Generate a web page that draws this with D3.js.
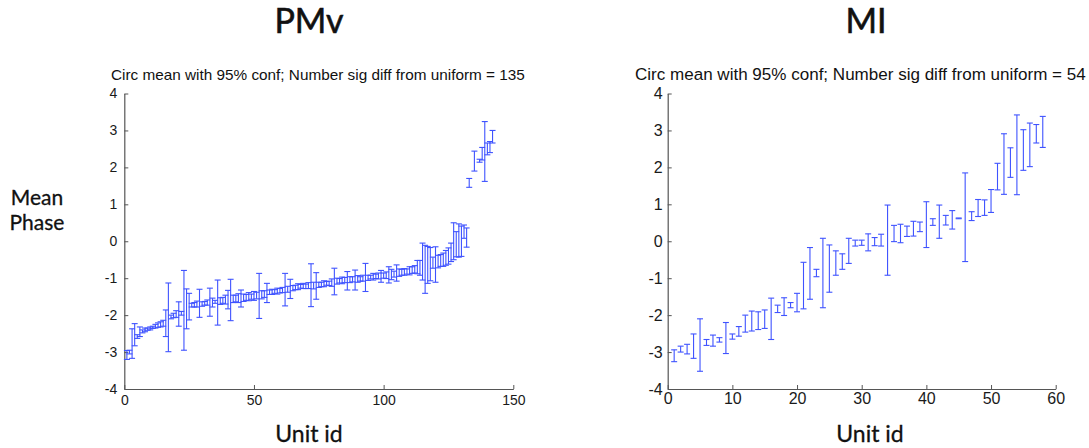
<!DOCTYPE html>
<html>
<head>
<meta charset="utf-8">
<script src="https://cdn.jsdelivr.net/npm/d3@7/dist/d3.min.js"></script>
<style>
  body { margin: 0; background: #fff; }
  svg { display: block; }
</style>
</head>
<body>
<svg id="chart" width="1089" height="448"></svg>
<script>
// ---------------- DATA ----------------
const panelTitles = ["PMv", "MI"];
const subtitles = [
  "Circ mean with 95% conf; Number sig diff from uniform = 135",
  "Circ mean with 95% conf; Number sig diff from uniform = 54"
];
const yLabelLines = ["Mean", "Phase"];
const xLabel = "Unit id";
const yTicks = [-4, -3, -2, -1, 0, 1, 2, 3, 4];
const pmvXTicks = [0, 50, 100, 150];
const miXTicks = [0, 10, 20, 30, 40, 50, 60];

// PMv: circular mean per unit id (1..142), null = not shown
const pmvMean = [
  -3.08, -3.00, -2.77, -2.53, -2.58, -2.45, -2.44, -2.40, -2.38, -2.36,
  -2.33, -2.30, -2.27, -2.25, -2.22, -2.22, -2.06, -2.05, -2.01, -1.97,
  -1.97, -1.95, -1.87, -1.83, -1.77, -1.73, -1.72, -1.70, -1.68, -1.70,
  -1.68, -1.66, -1.65, -1.66, -1.64, -1.66, -1.62, -1.60, -1.58, -1.58,
  -1.59, -1.56, -1.55, -1.54, -1.55, -1.53, -1.52, -1.50, -1.50, -1.48,
  -1.47, -1.48, -1.45, -1.43, -1.40, -1.38, -1.37, -1.36, -1.35, -1.34,
  -1.32, -1.31, -1.30, -1.29, -1.27, -1.25, -1.23, -1.22, -1.21, -1.22,
  -1.20, -1.19, -1.20, -1.21, -1.18, -1.17, -1.15, -1.14, -1.14, -1.12,
  -1.09, -1.08, -1.07, -1.06, -1.05, -1.07, -1.04, -1.03, -1.05, -1.02,
  -1.02, -1.00, -0.98, -0.99, -0.97, -0.96, -0.95, -0.94, -0.95, -0.93,
  -0.92, -0.91, -0.90, -0.89, -0.86, -0.85, -0.84, -0.83, -0.82, -0.80,
  -0.78, -0.76, -0.70, -0.72, -0.55, -0.76, -0.64, -0.62, -0.58, -0.63,
  -0.55, -0.52, -0.50, -0.45, -0.40, -0.30, 0.00, -0.08, 0.02, 0.00,
  0.26, 0.10, 1.58, null, 2.17, null, 2.18, 2.37, 2.43, 2.50,
  2.55, 2.83
];
// PMv: half width of 95% confidence interval
const pmvHalf = [
  0.12, 0.05, 0.40, 0.30, 0.05, 0.13, 0.04, 0.05, 0.03, 0.04,
  0.03, 0.05, 0.06, 0.07, 0.08, 0.36, 0.93, 0.05, 0.06, 0.09,
  0.33, 0.05, 1.08, 0.54, 0.36, 0.05, 0.06, 0.08, 0.38, 0.06,
  0.05, 0.07, 0.38, 0.12, 0.04, 0.61, 0.09, 0.08, 0.12, 0.25,
  0.56, 0.10, 0.09, 0.12, 0.23, 0.10, 0.08, 0.11, 0.07, 0.12,
  0.09, 0.61, 0.11, 0.09, 0.26, 0.06, 0.07, 0.05, 0.08, 0.06,
  0.07, 0.44, 0.08, 0.26, 0.07, 0.06, 0.08, 0.05, 0.07, 0.06,
  0.08, 0.58, 0.09, 0.36, 0.07, 0.06, 0.08, 0.05, 0.06, 0.10,
  0.36, 0.08, 0.06, 0.09, 0.07, 0.25, 0.08, 0.07, 0.27, 0.09,
  0.06, 0.08, 0.38, 0.07, 0.05, 0.09, 0.06, 0.08, 0.16, 0.07,
  0.09, 0.22, 0.14, 0.08, 0.22, 0.10, 0.08, 0.09, 0.07, 0.11,
  0.09, 0.10, 0.18, 0.20, 0.50, 0.65, 0.50, 0.45, 0.15, 0.48,
  0.17, 0.16, 0.18, 0.20, 0.22, 0.25, 0.50, 0.34, 0.45, 0.41,
  0.18, 0.26, 0.12, null, 0.27, null, 0.04, 0.17, 0.81, 0.16,
  0.15, 0.17
];

// MI: circular mean per unit id (1..58)
const miMean = [
  -3.10, -2.92, -2.92, -2.84, -2.81, -2.74, -2.69, -2.67, -2.62, -2.58,
  -2.44, -2.23, -2.16, -2.15, -2.11, -2.10, -1.83, -1.77, -1.73, -1.66,
  -1.20, -0.87, -0.86, -0.86, -0.74, -0.59, -0.55, -0.26, -0.05, -0.04,
  -0.03, -0.01, 0.03, 0.03, 0.21, 0.21, 0.27, 0.34, 0.39, 0.45,
  0.52, 0.53, 0.57, 0.58, 0.62, 0.65, 0.68, 0.90, 0.91, 1.09,
  1.75, 2.09, 2.13, 2.34, 2.47, 2.61, 2.91, 2.96
];
const miHalf = [
  0.16, 0.08, 0.13, 0.33, 0.71, 0.08, 0.15, 0.06, 0.42, 0.07,
  0.13, 0.23, 0.27, 0.24, 0.25, 0.56, 0.10, 0.24, 0.07, 0.25,
  0.63, 0.70, 0.10, 0.94, 0.64, 0.33, 0.21, 0.34, 0.08, 0.07,
  0.23, 0.11, 0.16, 0.95, 0.22, 0.25, 0.14, 0.20, 0.13, 0.62,
  0.09, 0.45, 0.13, 0.25, 0.01, 1.20, 0.12, 0.23, 0.21, 0.31,
  0.36, 0.82, 0.40, 1.08, 0.55, 0.59, 0.25, 0.42
];

// ---------------- DRAW ----------------
const svg = d3.select("#chart");
svg.append("rect").attr("width", 1089).attr("height", 448).attr("fill", "#fff");

const barColor = "#3f53ff";
const tickFont = "'Liberation Sans', Arial, Helvetica, sans-serif";
const titleFont = "Lato, 'Open Sans', sans-serif";
const fmt = d => String(d);   // plain hyphen-minus like the original

const panels = [
  { title: panelTitles[0], sub: subtitles[0], mean: pmvMean, half: pmvHalf,
    xDomain: [0, 150], xTicks: pmvXTicks, xRange: [124.3, 513.3],
    tickSize: 14, pad: 7, subX: [111, 525], titleX: 309, xLabelX: 309, cap: 3 },
  { title: panelTitles[1], sub: subtitles[1], mean: miMean, half: miHalf,
    xDomain: [0, 60], xTicks: miXTicks, xRange: [667.7, 1055.7],
    tickSize: 16, pad: 5, subX: [635, 1086], titleX: 866, xLabelX: 870, cap: 3 }
];

const yRange = [389, 93.5];

panels.forEach(p => {
  const x = d3.scaleLinear().domain(p.xDomain).range(p.xRange);
  const y = d3.scaleLinear().domain([-4, 4]).range(yRange);
  const g = svg.append("g");

  // Axes (MATLAB style, inward ticks, box off)
  const yAxis = d3.axisLeft(y).tickValues(yTicks).tickFormat(fmt)
    .tickSizeInner(-4).tickSizeOuter(0).tickPadding(p.pad);
  const xAxis = d3.axisBottom(x).tickValues(p.xTicks).tickFormat(fmt)
    .tickSizeInner(-4).tickSizeOuter(0).tickPadding(p.pad - 1);

  const ya = g.append("g").attr("transform", `translate(${p.xRange[0]},0)`).call(yAxis);
  const xa = g.append("g").attr("transform", `translate(0,${yRange[0]})`).call(xAxis);
  [ya, xa].forEach(a => {
    a.select(".domain").attr("stroke", "#555").attr("stroke-width", 1.2);
    a.selectAll(".tick line").attr("stroke", "#555");
    a.selectAll(".tick text").attr("fill", "#1a1a1a")
      .style("font-family", tickFont).style("font-size", p.tickSize + "px");
  });

  // Error bars
  const data = p.mean.map((m, i) => ({ id: i + 1, m, h: p.half[i] }))
    .filter(d => d.m !== null);
  const bars = g.append("g").attr("stroke", barColor).attr("stroke-width", 1.1)
    .attr("fill", "none");
  bars.selectAll("line.v").data(data).join("line").attr("class", "v")
    .attr("x1", d => x(d.id)).attr("x2", d => x(d.id))
    .attr("y1", d => y(d.m - d.h)).attr("y2", d => y(d.m + d.h));
  bars.selectAll("line.top").data(data).join("line").attr("class", "top")
    .attr("x1", d => x(d.id) - p.cap).attr("x2", d => x(d.id) + p.cap)
    .attr("y1", d => y(d.m + d.h)).attr("y2", d => y(d.m + d.h));
  bars.selectAll("line.bot").data(data).join("line").attr("class", "bot")
    .attr("x1", d => x(d.id) - p.cap).attr("x2", d => x(d.id) + p.cap)
    .attr("y1", d => y(d.m - d.h)).attr("y2", d => y(d.m - d.h));

  // Subtitle, fitted to the reference width
  const sub = g.append("text").text(p.sub)
    .attr("x", p.subX[0]).attr("y", 80)
    .style("font-family", tickFont).style("font-size", "13px").attr("fill", "#111");
  const w = sub.node().getComputedTextLength();
  const target = p.subX[1] - p.subX[0];
  sub.style("font-size", (13 * target / w).toFixed(2) + "px");

  // Panel title
  g.append("text").text(p.title).attr("x", p.titleX).attr("y", 33)
    .attr("text-anchor", "middle").style("font-family", titleFont)
    .style("font-size", "34px").attr("fill", "#111")
    .attr("stroke", "#111").attr("stroke-width", 0.6);

  // X label
  g.append("text").text(xLabel).attr("x", p.xLabelX).attr("y", 442)
    .attr("text-anchor", "middle").style("font-family", titleFont)
    .style("font-size", "23px").attr("fill", "#111")
    .attr("stroke", "#111").attr("stroke-width", 0.3);
});

// Y label (left panel only)
yLabelLines.forEach((t, i) => {
  svg.append("text").attr("x", 37).attr("y", 205 + i * 25).attr("text-anchor", "middle")
    .style("font-family", titleFont).style("font-size", "21px").attr("fill", "#111")
    .attr("stroke", "#111").attr("stroke-width", 0.3)
    .text(t);
});
</script>
</body>
</html>
